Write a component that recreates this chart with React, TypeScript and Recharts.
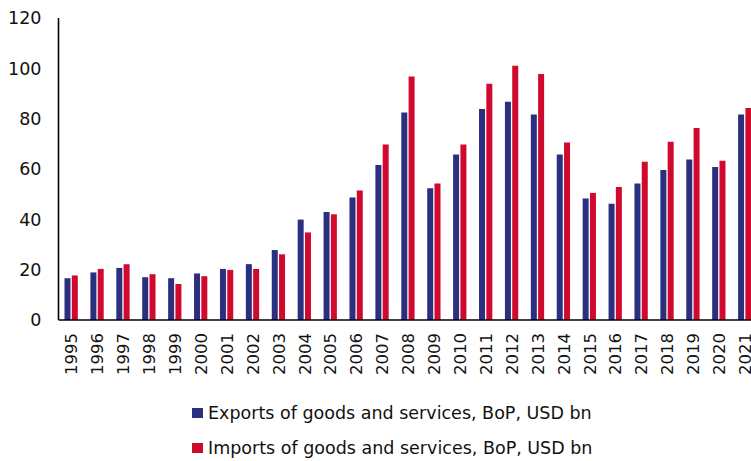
import React from 'react';
import { BarChart, Bar, XAxis, YAxis } from 'recharts';

const years = [
  '1995', '1996', '1997', '1998', '1999', '2000', '2001', '2002', '2003',
  '2004', '2005', '2006', '2007', '2008', '2009', '2010', '2011', '2012',
  '2013', '2014', '2015', '2016', '2017', '2018', '2019', '2020', '2021',
];

const exportsUsd = [
  16.6, 18.9, 20.7, 17.0, 16.6, 18.5, 20.3, 22.2, 27.8,
  39.9, 42.9, 48.7, 61.6, 82.5, 52.4, 65.8, 83.8, 86.7,
  81.7, 65.8, 48.3, 46.2, 54.2, 59.6, 63.8, 60.8, 81.7,
];

const importsUsd = [
  17.7, 20.3, 22.2, 18.2, 14.3, 17.4, 19.9, 20.3, 26.1,
  34.8, 42.0, 51.5, 69.7, 96.8, 54.2, 69.7, 93.9, 101.0,
  97.7, 70.5, 50.5, 52.8, 62.9, 70.8, 76.3, 63.3, 84.2,
];

const yTicks = [0, 20, 40, 60, 80, 100, 120];

const series = [
  { key: 'exports', name: 'Exports of goods and services, BoP, USD bn', color: '#2a2f80' },
  { key: 'imports', name: 'Imports of goods and services, BoP, USD bn', color: '#d0092f' },
];

const data = years.map((year, i) => ({
  year,
  exports: exportsUsd[i],
  imports: importsUsd[i],
}));

const axisFont = '"DejaVu Sans", sans-serif';

function YearTick(props: any) {
  const { x, payload } = props;
  return (
    <g transform={`translate(${x},333)`}>
      <text
        transform="rotate(-90)"
        textAnchor="end"
        dy="0.36em"
        fontFamily={axisFont}
        fontSize={16.5}
        fill="#111"
      >
        {payload.value}
      </text>
    </g>
  );
}

export default function App() {
  return (
    <div
      style={{
        position: 'absolute',
        top: 0,
        left: 0,
        width: 751,
        height: 461,
        overflow: 'hidden',
        background: '#fff',
      }}
    >
      <BarChart
        width={758}
        height={461}
        data={data}
        margin={{ top: 18, right: 0, bottom: 0, left: 0 }}
        barCategoryGap={6}
        barGap={1.3}
      >
        <XAxis
          dataKey="year"
          height={141}
          interval={0}
          tickLine={false}
          axisLine={{ stroke: '#000', strokeWidth: 1.6 }}
          tick={<YearTick />}
        />
        <YAxis
          width={58.5}
          domain={[0, 120]}
          ticks={yTicks}
          tickLine={false}
          tickSize={0}
          tickMargin={17}
          axisLine={{ stroke: '#000', strokeWidth: 1.6 }}
          tick={{ fontFamily: axisFont, fontSize: 17.5, fill: '#111' }}
        />
        {series.map((s) => (
          <Bar key={s.key} dataKey={s.key} name={s.name} fill={s.color} isAnimationActive={false} />
        ))}
      </BarChart>

      {/* legend: one row per series, square swatch then label */}
      {series.map((s, i) => (
        <div
          key={s.key}
          style={{
            position: 'absolute',
            left: 192,
            top: 402 + i * 35,
            display: 'flex',
            alignItems: 'center',
            fontFamily: axisFont,
            fontSize: 17.5,
            color: '#111',
            whiteSpace: 'nowrap',
            lineHeight: '22px',
          }}
        >
          <span style={{ display: 'inline-block', width: 11, height: 10, background: s.color, marginRight: 5 }} />
          {s.name}
        </div>
      ))}
    </div>
  );
}
